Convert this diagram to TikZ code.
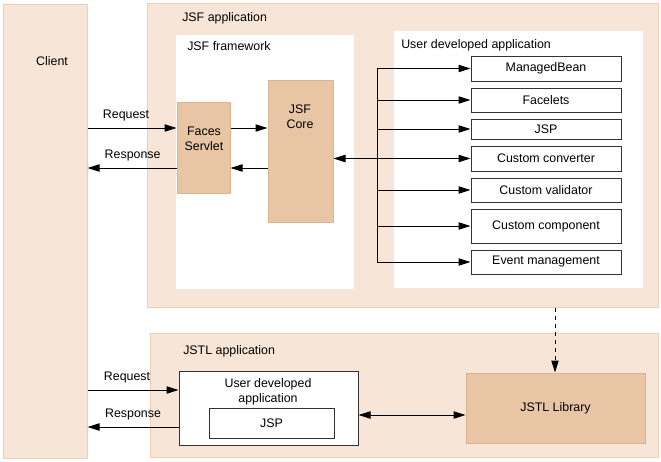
\documentclass[tikz,border=0pt]{standalone}
\usepackage{fontspec}
\setmainfont{Liberation Sans}
\usetikzlibrary{fit,arrows.meta}
\definecolor{lightfill}{HTML}{F7E6D7}
\definecolor{lightdraw}{HTML}{EFCFB3}
\definecolor{darkfill}{HTML}{E8C5A5}
\definecolor{darkdraw}{HTML}{DDB48F}
\tikzset{
  lightbox/.style={fill=lightfill,draw=lightdraw,line width=0.75pt,inner sep=0pt},
  whitebox/.style={fill=white,draw=none,inner sep=0pt},
  darkbox/.style={fill=darkfill,draw=darkdraw,line width=0.75pt,inner sep=0pt},
  itembox/.style={fill=white,draw=black!80,line width=0.75pt,inner sep=0pt,align=center},
  lbl/.style={inner sep=0pt,align=center,font=\fontsize{9.3}{11.2}\selectfont},
  arr/.style={line width=0.75pt,-{Triangle[length=9pt,width=5.5pt]}},
  darr/.style={line width=0.75pt,{Triangle[length=9pt,width=5.5pt]}-{Triangle[length=9pt,width=5.5pt]}},
  dasharr/.style={arr,dash pattern=on 3.5pt off 2.5pt},
  conn/.style={line width=0.75pt}
}
\begin{document}
\begin{tikzpicture}[x=0.75pt,y=-0.75pt]
\useasboundingbox (0,0) rectangle (661,461);
% containers
\node[lightbox,fit={(3,4) (87,458)}] (client) {};
\node[lbl] (clientlbl) at (52,61) {Client};
\node[lightbox,fit={(147,3) (658,307)}] (jsfapp) {};
\node[lbl,anchor=west] (jsfapplbl) at (182,18.5) {JSF application};
\node[whitebox,fit={(176,35) (354,289)}] (jsffw) {};
\node[lbl,anchor=west] (jsffwlbl) at (187,46) {JSF framework};
\node[whitebox,fit={(394,31) (643,288)}] (uda) {};
\node[lbl,anchor=west] (udalbl) at (401,45) {User developed application};
\node[darkbox,fit={(177,102) (230,193)}] (faces) {};
\node[lbl] (faceslbl) at (204,138.5) {Faces\\Servlet};
\node[darkbox,fit={(268,80) (333,222)}] (core) {};
\node[lbl] (corelbl) at (300,116.5) {JSF\\Core};
% items
\node[itembox,fit={(471,56) (621,81)}] (mb) {};
\node[lbl] at (mb.center) {ManagedBean};
\node[itembox,fit={(471,88) (621,112)}] (fac) {};
\node[lbl] at (fac.center) {Facelets};
\node[itembox,fit={(471,119) (621,139)}] (jsp) {};
\node[lbl] at (jsp.center) {JSP};
\node[itembox,fit={(471,146) (621,171)}] (conv) {};
\node[lbl] at (conv.center) {Custom converter};
\node[itembox,fit={(471,178) (621,202)}] (val) {};
\node[lbl] at (val.center) {Custom validator};
\node[itembox,fit={(471,209) (621,243)}] (comp) {};
\node[lbl] at (comp.center) {Custom component};
\node[itembox,fit={(471,250) (621,274)}] (evt) {};
\node[lbl] at (evt.center) {Event management};
% JSTL part
\node[lightbox,fit={(150,333) (658,457)}] (jstlapp) {};
\node[lbl,anchor=west] (jstlapplbl) at (183,351) {JSTL application};
\node[itembox,fit={(179,371) (358,445)}] (udabox) {};
\node[lbl] (udaboxlbl) at (268,391.5) {User developed\\application};
\node[itembox,fit={(209,408) (334,438)}] (jspbox) {};
\node[lbl] at (jspbox.center) {JSP};
\node[darkbox,fit={(466,373) (645,443)}] (jstllib) {};
\node[lbl] at (jstllib.center) {JSTL Library};
% bus
\coordinate (bustop) at (377,68);
\coordinate (busbot) at (377,262);
\draw[conn] (bustop) -- (busbot);
\draw[arr] (mb.west -| bustop) -- (mb.west);
\draw[arr] (fac.west -| bustop) -- (fac.west);
\draw[arr] (jsp.west -| bustop) -- (jsp.west);
\draw[arr] (val.west -| bustop) -- (val.west);
\draw[arr] (comp.west -| bustop) -- (comp.west);
\draw[arr] (evt.west -| bustop) -- (evt.west);
\draw[darr] (core.east |- conv.west) -- (conv.west);
% client <-> faces
\draw[arr] (client.east |- 0,128) -- node[lbl,above=4.5pt,xshift=-4.5pt] (req1) {Request} (faces.west |- 0,128);
\draw[arr] (faces.west |- 0,168) -- node[lbl,above=4.5pt,xshift=0.5pt] (resp1) {Response} (client.east |- 0,168);
\draw[arr] (faces.east |- 0,128) -- (core.west |- 0,128);
\draw[arr] (core.west |- 0,168) -- (faces.east |- 0,168);
% client <-> JSTL user app
\draw[arr] (client.east |- 0,390) -- node[lbl,above=4.5pt,xshift=-4.5pt] (req2) {Request} (udabox.west |- 0,390);
\draw[arr] (udabox.west |- 0,427) -- node[lbl,above=4.5pt,xshift=0pt] (resp2) {Response} (client.east |- 0,427);
\draw[darr] (udabox.east |- 0,415) -- (jstllib.west |- 0,415);
\draw[dasharr] (jsfapp.south -| 555,0) -- (jstllib.north -| 555,0);
\end{tikzpicture}
\end{document}
